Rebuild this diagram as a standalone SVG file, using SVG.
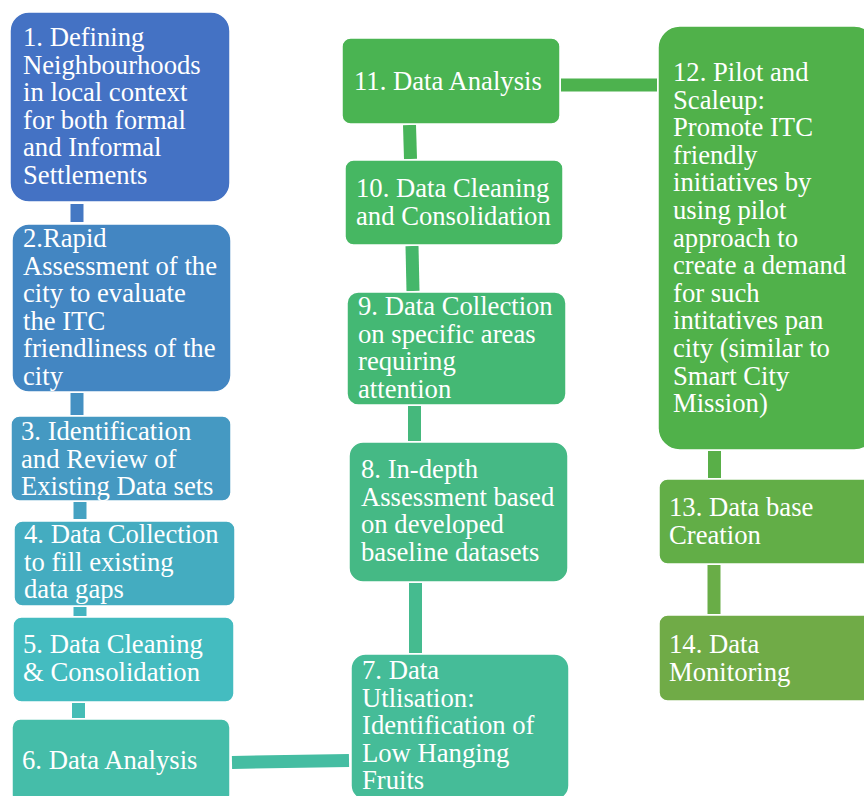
<svg xmlns="http://www.w3.org/2000/svg" width="864" height="796" viewBox="0 0 864 796">
<style>
.box{stroke:#ffffff;stroke-width:1.5}
.t{font-family:"Liberation Serif","Times New Roman",serif;font-size:26.67px;fill:#ffffff}
.c{stroke-linecap:butt;stroke-width:13;fill:none}
</style>
<rect width="864" height="796" fill="#ffffff"/>
<g id="connectors">
<line class="c" x1="77" y1="204" x2="77" y2="222" stroke="#4478C3"/>
<line class="c" x1="77" y1="393" x2="77" y2="415" stroke="#4490C2"/>
<line class="c" x1="80" y1="502" x2="80" y2="519" stroke="#45A2C2"/>
<line class="c" x1="80" y1="607" x2="80" y2="616" stroke="#44B4C0"/>
<line class="c" x1="78.5" y1="703" x2="78.5" y2="718" stroke="#45BDB6"/>
<line class="c" x1="232" y1="762.5" x2="349" y2="760.5" stroke="#45BDA2"/>
<line class="c" x1="415.5" y1="583" x2="415.5" y2="653" stroke="#45BB8F"/>
<line class="c" x1="414.5" y1="406" x2="414.5" y2="441" stroke="#45B87C"/>
<line class="c" x1="412" y1="246" x2="413" y2="291" stroke="#45B76A"/>
<line class="c" x1="409.5" y1="125" x2="410.5" y2="159" stroke="#48B55A"/>
<line class="c" x1="561" y1="85" x2="657" y2="85" stroke="#4DB24E"/>
<line class="c" x1="714.5" y1="451" x2="714.5" y2="478" stroke="#59AF48"/>
<line class="c" x1="714" y1="565" x2="714" y2="614" stroke="#69AD47"/>
</g>
<g id="node1">
<rect class="box" x="10" y="12" width="220" height="190" rx="19" fill="#4472C4"/>
<text class="t" x="23" y="46"><tspan x="23">1. Defining</tspan><tspan x="23" dy="27.6">Neighbourhoods</tspan><tspan x="23" dy="27.6">in local context</tspan><tspan x="23" dy="27.6">for both formal</tspan><tspan x="23" dy="27.6">and Informal</tspan><tspan x="23" dy="27.6">Settlements</tspan></text>
</g>
<g id="node2">
<rect class="box" x="12" y="224" width="219" height="168" rx="16.8" fill="#4386C2"/>
<text class="t" x="23" y="247"><tspan x="23">2.Rapid</tspan><tspan x="23" dy="27.6">Assessment of the</tspan><tspan x="23" dy="27.6">city to evaluate</tspan><tspan x="23" dy="27.6">the ITC</tspan><tspan x="23" dy="27.6">friendliness of the</tspan><tspan x="23" dy="27.6">city</tspan></text>
</g>
<g id="node3">
<rect class="box" x="11" y="416" width="220" height="85" rx="8.5" fill="#4599C2"/>
<text class="t" x="21" y="440"><tspan x="21">3. Identification</tspan><tspan x="21" dy="27.6">and Review of</tspan><tspan x="21" dy="27.6">Existing Data sets</tspan></text>
</g>
<g id="node4">
<rect class="box" x="14" y="521" width="221" height="85" rx="8.5" fill="#44ACC0"/>
<text class="t" x="24" y="543"><tspan x="24">4. Data Collection</tspan><tspan x="24" dy="27.6">to fill existing</tspan><tspan x="24" dy="27.6">data gaps</tspan></text>
</g>
<g id="node5">
<rect class="box" x="13" y="617" width="221" height="85" rx="8.5" fill="#44BCC0"/>
<text class="t" x="23" y="653"><tspan x="23">5. Data Cleaning</tspan><tspan x="23" dy="27.6">&amp; Consolidation</tspan></text>
</g>
<g id="node6">
<rect class="box" x="12" y="719" width="218" height="84" rx="8.4" fill="#45BDA9"/>
<text class="t" x="22" y="769">6. Data Analysis</text>
</g>
<g id="node7">
<rect class="box" x="351" y="654" width="218" height="146" rx="14.6" fill="#45BC98"/>
<text class="t" x="362" y="679"><tspan x="362">7. Data</tspan><tspan x="362" dy="27.6">Utlisation:</tspan><tspan x="362" dy="27.6">Identification of</tspan><tspan x="362" dy="27.6">Low Hanging</tspan><tspan x="362" dy="27.6">Fruits</tspan></text>
</g>
<g id="node8">
<rect class="box" x="349" y="442" width="219" height="140" rx="14" fill="#45B985"/>
<text class="t" x="361" y="478"><tspan x="361">8. In-depth</tspan><tspan x="361" dy="27.6">Assessment based</tspan><tspan x="361" dy="27.6">on developed</tspan><tspan x="361" dy="27.6">baseline datasets</tspan></text>
</g>
<g id="node9">
<rect class="box" x="347" y="292" width="219" height="113" rx="11.3" fill="#44B874"/>
<text class="t" x="358" y="315"><tspan x="358">9. Data Collection</tspan><tspan x="358" dy="27.6">on specific areas</tspan><tspan x="358" dy="27.6">requiring</tspan><tspan x="358" dy="27.6">attention</tspan></text>
</g>
<g id="node10">
<rect class="box" x="345" y="160" width="218" height="85" rx="8.5" fill="#46B762"/>
<text class="t" x="356" y="197"><tspan x="356">10. Data Cleaning</tspan><tspan x="356" dy="27.6">and Consolidation</tspan></text>
</g>
<g id="node11">
<rect class="box" x="342" y="38" width="218" height="86" rx="8.6" fill="#4AB452"/>
<text class="t" x="354" y="90">11. Data Analysis</text>
</g>
<g id="node12">
<rect class="box" x="658" y="26" width="218" height="424" rx="21.8" fill="#50B14A"/>
<text class="t" x="673" y="81"><tspan x="673">12. Pilot and</tspan><tspan x="673" dy="27.6">Scaleup:</tspan><tspan x="673" dy="27.6">Promote ITC</tspan><tspan x="673" dy="27.6">friendly</tspan><tspan x="673" dy="27.6">initiatives by</tspan><tspan x="673" dy="27.6">using pilot</tspan><tspan x="673" dy="27.6">approach to</tspan><tspan x="673" dy="27.6">create a demand</tspan><tspan x="673" dy="27.6">for such</tspan><tspan x="673" dy="27.6">intitatives pan</tspan><tspan x="673" dy="27.6">city (similar to</tspan><tspan x="673" dy="27.6">Smart City</tspan><tspan x="673" dy="27.6">Mission)</tspan></text>
</g>
<g id="node13">
<rect class="box" x="659" y="479" width="218" height="85" rx="8.5" fill="#62AE47"/>
<text class="t" x="669" y="516"><tspan x="669">13. Data base</tspan><tspan x="669" dy="27.6">Creation</tspan></text>
</g>
<g id="node14">
<rect class="box" x="659" y="615" width="218" height="86" rx="8.6" fill="#70AB47"/>
<text class="t" x="669" y="653"><tspan x="669">14. Data</tspan><tspan x="669" dy="27.6">Monitoring</tspan></text>
</g>
</svg>
